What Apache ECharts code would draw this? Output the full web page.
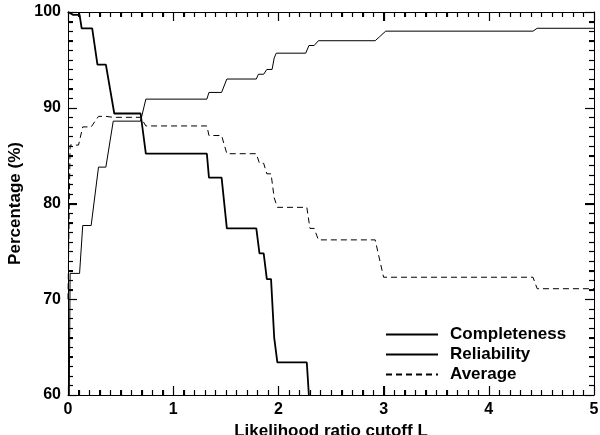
<!DOCTYPE html>
<html>
<head>
<meta charset="utf-8">
<script src="https://cdn.jsdelivr.net/npm/echarts@6/dist/echarts.min.js"></script>
<style>
  html, body { margin: 0; padding: 0; background: #fff; }
  #chart { width: 600px; height: 435px; }
</style>
</head>
<body>
<div id="chart"></div>
<script>
// Completeness vs. cutoff
const completenessX = [0, 0.05, 0.11, 0.13, 0.23, 0.28, 0.36, 0.44, 0.69, 0.74, 1.32, 1.34, 1.46, 1.51, 1.79, 1.82, 1.86, 1.89, 1.93, 1.96, 1.99, 2.27, 2.30, 2.34, 2.38, 2.92, 3.00, 4.42, 4.46, 5.0];
const completenessY = [100, 99.7, 99.7, 98.3, 98.3, 94.5, 94.5, 89.4, 89.4, 85.2, 85.2, 82.7, 82.7, 77.4, 77.4, 74.8, 74.8, 72.1, 72.1, 66.0, 63.4, 63.4, 58.2, 58.2, 55.4, 55.4, 46.6, 46.6, 43.9, 43.9];

// Reliability vs. cutoff
const reliabilityX = [0, 0.02, 0.11, 0.14, 0.22, 0.29, 0.36, 0.43, 0.69, 0.74, 1.32, 1.34, 1.46, 1.51, 1.79, 1.81, 1.86, 1.89, 1.94, 1.96, 1.98, 2.26, 2.29, 2.34, 2.38, 2.92, 2.96, 3.02, 4.42, 4.46, 5.0];
const reliabilityY = [40, 72.7, 72.7, 77.7, 77.7, 83.8, 83.8, 88.6, 88.6, 90.9, 90.9, 91.6, 91.6, 93.0, 93.0, 93.5, 93.5, 94.0, 94.0, 95.2, 95.7, 95.7, 96.5, 96.5, 97.0, 97.0, 97.4, 98.0, 98.0, 98.3, 98.3];

// Average of the two
const averageX = [0, 0.02, 0.10, 0.14, 0.22, 0.29, 0.36, 0.43, 0.69, 0.74, 1.32, 1.34, 1.46, 1.51, 1.79, 1.82, 1.86, 1.89, 1.93, 1.96, 1.99, 2.27, 2.30, 2.34, 2.38, 2.92, 3.00, 4.42, 4.46, 5.0];
const averageY = [70, 86.1, 86.1, 88.0, 88.0, 89.1, 89.1, 89.0, 89.0, 88.1, 88.1, 87.1, 87.1, 85.2, 85.2, 84.2, 84.2, 83.1, 83.1, 80.6, 79.6, 79.6, 77.4, 77.4, 76.2, 76.2, 72.3, 72.3, 71.1, 71.1];

// Axis ticks
const xTicks = [0, 1, 2, 3, 4, 5];
const yTicks = [60, 70, 80, 90, 100];
const xMinorPerMajor = 10;
const yMinorPerMajor = 10;

const zip = (xs, ys) => xs.map((x, i) => [x, ys[i]]);

const FONT = '"Liberation Sans", Arial, Helvetica, sans-serif';
const black = '#000';
const xMin = xTicks[0], xMax = xTicks[xTicks.length - 1];
const yMin = yTicks[0], yMax = yTicks[yTicks.length - 1];
const MAJOR_LEN = 9, MINOR_LEN = 5;

// Tick list: [axis (0 = x, 1 = y), value, length]
const tickData = [];
function addTicks(axis, majors, per) {
  for (let i = 0; i < majors.length; i++) {
    tickData.push([axis, majors[i], MAJOR_LEN]);
    if (i < majors.length - 1) {
      const step = (majors[i + 1] - majors[i]) / per;
      for (let k = 1; k < per; k++) tickData.push([axis, +(majors[i] + k * step).toFixed(6), MINOR_LEN]);
    }
  }
}
addTicks(0, xTicks, xMinorPerMajor);
addTicks(1, yTicks, yMinorPerMajor);

// Inward ticks on all four frame sides
function renderTick(params, api) {
  const axis = api.value(0), v = api.value(1), len = api.value(2);
  const style = { stroke: black, lineWidth: 1.2 };
  if (axis === 0) {
    const b = api.coord([v, yMin]), t = api.coord([v, yMax]);
    const x = Math.round(b[0]) + 0.5;
    return { type: 'group', children: [
      { type: 'line', shape: { x1: x, y1: b[1], x2: x, y2: b[1] - len }, style },
      { type: 'line', shape: { x1: x, y1: t[1], x2: x, y2: t[1] + len }, style }
    ] };
  }
  const l = api.coord([xMin, v]), r = api.coord([xMax, v]);
  const y = Math.round(l[1]) + 0.5;
  return { type: 'group', children: [
    { type: 'line', shape: { x1: l[0], y1: y, x2: l[0] + len, y2: y }, style },
    { type: 'line', shape: { x1: r[0], y1: y, x2: r[0] - len, y2: y }, style }
  ] };
}

function xAxisDef(pos, showLabels) {
  return {
    type: 'value', position: pos, min: xMin, max: xMax, interval: 1,
    name: showLabels ? 'Likelihood ratio cutoff L' : '',
    nameLocation: 'middle', nameGap: 14,
    nameTextStyle: { fontFamily: FONT, fontWeight: 'bold', fontSize: 17, color: black },
    axisLine: { show: true, onZero: false, lineStyle: { color: black, width: 1 } },
    axisTick: { show: true, inside: true, length: MAJOR_LEN, lineStyle: { color: black, width: 1 } },
    minorTick: { show: true, splitNumber: xMinorPerMajor, length: MINOR_LEN, lineStyle: { color: black, width: 1 } },
    axisLabel: { show: showLabels, margin: 7, fontFamily: FONT, fontWeight: 'bold', fontSize: 16, color: black },
    splitLine: { show: false }
  };
}

function yAxisDef(pos, showLabels) {
  return {
    type: 'value', position: pos, min: yMin, max: yMax, interval: 10,
    name: showLabels ? 'Percentage (%)' : '',
    nameLocation: 'middle', nameGap: 35,
    nameTextStyle: { fontFamily: FONT, fontWeight: 'bold', fontSize: 17, color: black },
    axisLine: { show: true, onZero: false, lineStyle: { color: black, width: 1 } },
    axisTick: { show: true, inside: true, length: MAJOR_LEN, lineStyle: { color: black, width: 1 } },
    minorTick: { show: true, splitNumber: yMinorPerMajor, length: MINOR_LEN, lineStyle: { color: black, width: 1 } },
    axisLabel: { show: showLabels, margin: 7, fontFamily: FONT, fontWeight: 'bold', fontSize: 16, color: black },
    splitLine: { show: false }
  };
}

const chart = echarts.init(document.getElementById('chart'), null, { renderer: 'canvas' });
chart.setOption({
  animation: false,
  backgroundColor: '#fff',
  grid: { left: 68, right: 6, top: 12, bottom: 40, outerBoundsMode: 'none', containLabel: false },
  xAxis: [xAxisDef('bottom', true), xAxisDef('top', false)],
  yAxis: [yAxisDef('left', true), yAxisDef('right', false)],
  legend: {
    orient: 'vertical', left: 385, top: 326, padding: 0,
    itemWidth: 52, itemHeight: 14, itemGap: 3,
    itemStyle: { opacity: 0 },
    textStyle: { fontFamily: FONT, fontWeight: 'bold', fontSize: 17, color: black, padding: [0, 0, 0, 7] },
    data: ['Completeness', 'Reliability', 'Average']
  },
  series: [
    {
      name: 'Completeness', type: 'line', xAxisIndex: 0, yAxisIndex: 0,
      data: zip(completenessX, completenessY), symbol: 'none', clip: true,
      lineStyle: { color: black, width: 1.8 }, itemStyle: { color: black }
    },
    {
      name: 'Reliability', type: 'line', xAxisIndex: 0, yAxisIndex: 0,
      data: zip(reliabilityX, reliabilityY), symbol: 'none', clip: true,
      lineStyle: { color: black, width: 1 }, itemStyle: { color: black }
    },
    {
      name: 'Average', type: 'line', xAxisIndex: 0, yAxisIndex: 0,
      data: zip(averageX, averageY), symbol: 'none', clip: true,
      lineStyle: { color: black, width: 1, type: [6, 4] }, itemStyle: { color: black }
    },
    {
      name: 'ticks', type: 'custom', xAxisIndex: 0, yAxisIndex: 0,
      coordinateSystem: 'cartesian2d', data: tickData, renderItem: renderTick,
      clip: false, silent: true, z: 3, tooltip: { show: false }
    }
  ]
});
</script>
</body>
</html>
